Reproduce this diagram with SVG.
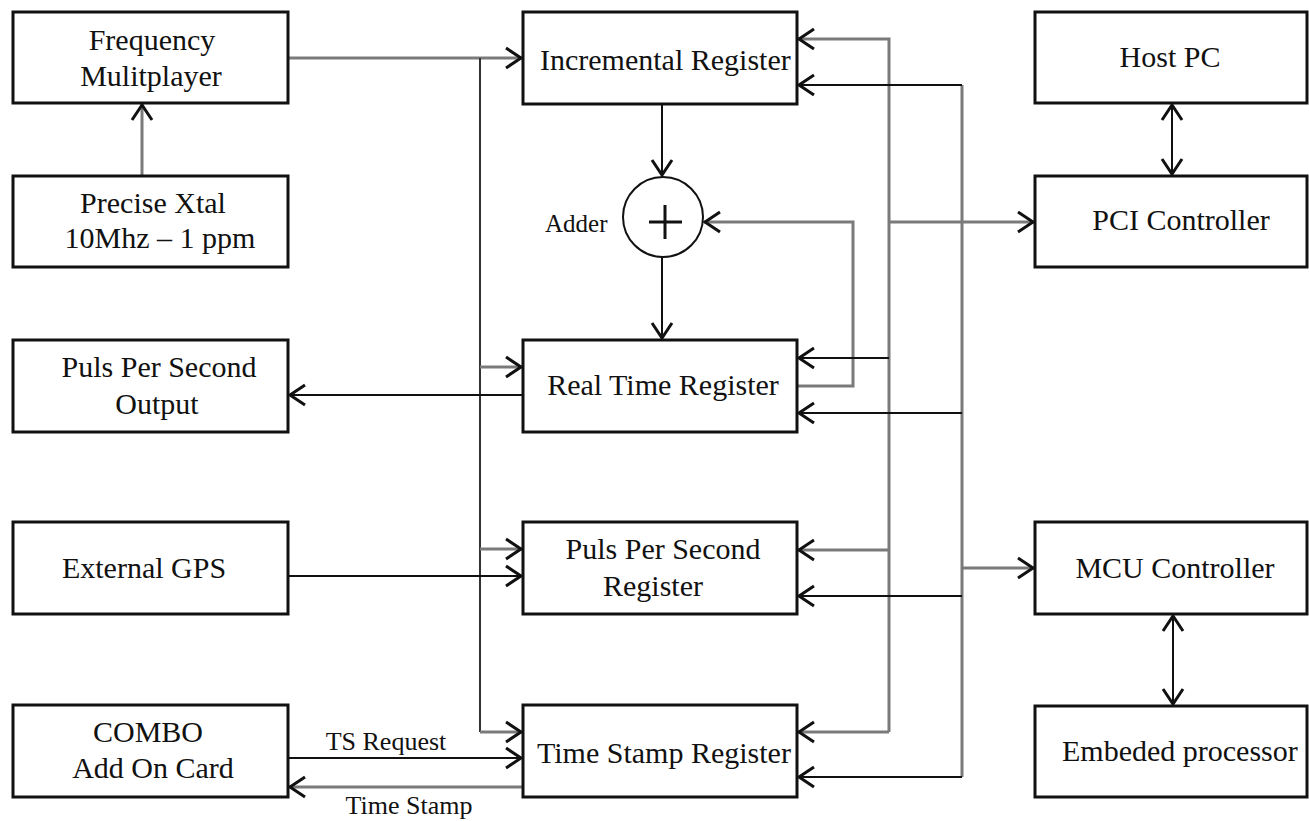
<svg xmlns="http://www.w3.org/2000/svg" width="1309" height="821" viewBox="0 0 1309 821">
<style>
.box{fill:#fff;stroke:#111;stroke-width:3}
.t{font-family:"Liberation Serif","DejaVu Serif",serif;font-size:30px;fill:#111}
.s{font-family:"Liberation Serif","DejaVu Serif",serif;font-size:26px;fill:#111}
.m{text-anchor:middle}
.g{fill:none;stroke:#7a7a7a;stroke-width:3}
.k{fill:none;stroke:#111;stroke-width:2}
.a{marker-end:url(#arr)}
.d{marker-start:url(#arr);marker-end:url(#arr)}
</style>
<defs>
<marker id="arr" viewBox="-19 -13 21 26" refX="0" refY="0" markerWidth="21" markerHeight="26" markerUnits="userSpaceOnUse" orient="auto-start-reverse">
<path d="M-16,-10 L-1,0 L-16,10" fill="none" stroke="#111" stroke-width="3" stroke-linejoin="miter"/>
</marker>
</defs>
<rect width="1309" height="821" fill="#fff"/>

<g id="connectors">
<path class="g a" d="M288,58 H522"/>
<path class="g a" d="M142,176 V104"/>
<path class="k" d="M480,58 V732" style="stroke:#333"/>
<path class="g a" d="M480,367 H522"/>
<path class="g a" d="M480,549 H522"/>
<path class="g a" d="M480,732 H522"/>
<path class="k a" d="M523,395 H289"/>
<path class="k a" d="M288,576 H522"/>
<path class="k a" d="M288,758 H522"/>
<path class="g a" d="M523,787 H289"/>
<path class="k a" d="M662,104 V176"/>
<path class="k a" d="M662,257 V339"/>
<path class="g a" d="M797,386 H853 V222 H704"/>
<path class="g a" d="M889,732 V39 H798"/>
<path class="k a" d="M889,358 H798"/>
<path class="g a" d="M889,550 H798"/>
<path class="g a" d="M889,732 H798"/>
<path class="g a" d="M889,222 H1034"/>
<path class="g" d="M962,777 V85"/>
<path class="k a" d="M962,85 H798"/>
<path class="k a" d="M962,413 H798"/>
<path class="g a" d="M962,568 H1034"/>
<path class="k a" d="M962,596 H798"/>
<path class="k a" d="M962,777 H798"/>
<path class="k d" d="M1172,104 V175"/>
<path class="k d" d="M1173,615 V705"/>
</g>

<g id="freq">
<rect class="box" x="13" y="12" width="275" height="91"/>
<text class="t m" x="152" y="50">Frequency</text>
<text class="t m" x="151" y="86">Mulitplayer</text>
</g>
<g id="xtal">
<rect class="box" x="13" y="176" width="275" height="91"/>
<text class="t m" x="153" y="213">Precise Xtal</text>
<text class="t m" x="160" y="248">10Mhz – 1 ppm</text>
</g>
<g id="ppsout">
<rect class="box" x="13" y="340" width="275" height="92"/>
<text class="t m" x="159" y="377">Puls Per Second</text>
<text class="t m" x="157" y="414">Output</text>
</g>
<g id="gps">
<rect class="box" x="13" y="522" width="275" height="92"/>
<text class="t m" x="144" y="578">External GPS</text>
</g>
<g id="combo">
<rect class="box" x="13" y="705" width="275" height="92"/>
<text class="t m" x="148" y="742">COMBO</text>
<text class="t m" x="153" y="778">Add On Card</text>
</g>
<g id="incr">
<rect class="box" x="523" y="12" width="274" height="92"/>
<text class="t" x="540" y="70">Incremental Register</text>
</g>
<g id="adder">
<circle cx="663" cy="217" r="40" fill="#fff" stroke="#111" stroke-width="2"/>
<path d="M649,222 H682 M665,205 V239" stroke="#111" stroke-width="3"/>
<text class="s" x="545" y="232" style="font-size:25px">Adder</text>
</g>
<g id="rtr">
<rect class="box" x="523" y="340" width="274" height="92"/>
<text class="t m" x="663" y="395">Real Time Register</text>
</g>
<g id="ppsr">
<rect class="box" x="523" y="522" width="274" height="92"/>
<text class="t m" x="663" y="559">Puls Per Second</text>
<text class="t m" x="653" y="596">Register</text>
</g>
<g id="tsr">
<rect class="box" x="523" y="705" width="274" height="92"/>
<text class="t" x="537" y="763">Time Stamp Register</text>
</g>
<g id="host">
<rect class="box" x="1035" y="12" width="272" height="91"/>
<text class="t m" x="1170" y="67">Host PC</text>
</g>
<g id="pci">
<rect class="box" x="1035" y="176" width="272" height="91"/>
<text class="t m" x="1181" y="230">PCI Controller</text>
</g>
<g id="mcu">
<rect class="box" x="1035" y="522" width="272" height="92"/>
<text class="t m" x="1175" y="578">MCU Controller</text>
</g>
<g id="embedded">
<rect class="box" x="1035" y="706" width="272" height="91"/>
<text class="t" x="1062" y="761">Embeded processor</text>
</g>
<g id="labels">
<text class="s m" x="386" y="750">TS Request</text>
<text class="s m" x="409" y="814">Time Stamp</text>
</g>
</svg>
